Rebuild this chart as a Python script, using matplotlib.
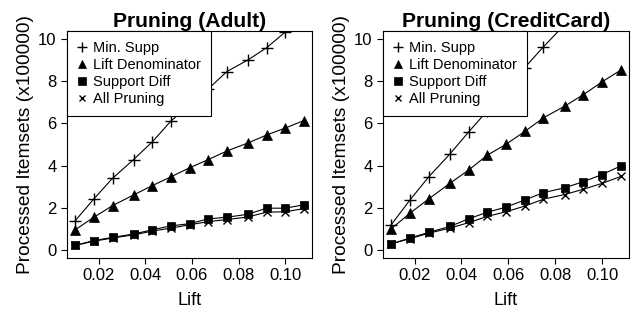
import matplotlib
matplotlib.use("Agg")
import matplotlib.pyplot as plt

plt.rcParams['font.family'] = ['Liberation Sans', 'DejaVu Sans']

lift = [0.010, 0.018, 0.026, 0.035, 0.043, 0.051, 0.059, 0.067, 0.075, 0.084, 0.092, 0.100, 0.108]

# Adult
adult_minsupp = [1.37, 2.41, 3.39, 4.28, 5.12, 6.11, 6.9, 7.64, 8.47, 9.02, 9.6, 10.35, 11.1]
adult_liftden = [0.94, 1.54, 2.09, 2.6, 3.04, 3.46, 3.89, 4.28, 4.69, 5.07, 5.45, 5.78, 6.14]
adult_suppdiff = [0.2, 0.43, 0.58, 0.74, 0.94, 1.13, 1.23, 1.46, 1.54, 1.68, 1.97, 1.97, 2.13]
adult_all = [0.2, 0.4, 0.55, 0.7, 0.88, 1.02, 1.18, 1.33, 1.43, 1.55, 1.78, 1.8, 1.95]

# CreditCard
cc_minsupp = [1.18, 2.36, 3.46, 4.54, 5.59, 6.6, 7.6, 8.66, 9.65, 10.7, 11.7, 12.7, 13.7]
cc_liftden = [0.99, 1.73, 2.41, 3.15, 3.78, 4.49, 5.01, 5.62, 6.27, 6.82, 7.37, 7.98, 8.54]
cc_suppdiff = [0.27, 0.55, 0.82, 1.1, 1.46, 1.78, 2.02, 2.36, 2.71, 2.94, 3.23, 3.57, 3.98]
cc_all = [0.27, 0.52, 0.78, 1.02, 1.28, 1.58, 1.8, 2.07, 2.4, 2.62, 2.87, 3.15, 3.48]

labels = ["Min. Supp", "Lift Denominator", "Support Diff", "All Pruning"]
markers = ["+", "^", "s", "x"]
msizes = [8, 7, 6, 5.5]

panels = [
    ("Pruning (Adult)", [adult_minsupp, adult_liftden, adult_suppdiff, adult_all], [67, 312]),
    ("Pruning (CreditCard)", [cc_minsupp, cc_liftden, cc_suppdiff, cc_all], [383, 629]),
]

W, H = 644, 310
fig = plt.figure(figsize=(W / 100, H / 100), dpi=100)

for title, series, (x0, x1) in panels:
    ax = fig.add_axes([x0 / W, 1 - 258 / H, (x1 - x0) / W, (258 - 31) / H])
    for ys, lab, m, ms in zip(series, labels, markers, msizes):
        ax.plot(lift, ys, color="black", lw=0.8, marker=m, markersize=ms,
                markeredgewidth=1.0 if m in "+x" else 0.5, label=lab)
    ax.set_xlim(0.0065, 0.1115)
    ax.set_ylim(-0.4, 10.4)
    ax.set_xticks([0.02, 0.04, 0.06, 0.08, 0.10])
    ax.set_xticklabels(["0.02", "0.04", "0.06", "0.08", "0.10"])
    ax.set_yticks([0, 2, 4, 6, 8, 10])
    ax.tick_params(labelsize=12, length=4, width=0.8)
    ax.set_title(title, fontsize=15.2, fontweight="bold", pad=3)
    ax.set_xlabel("Lift", fontsize=13, labelpad=6)
    ax.set_ylabel("Processed Itemsets (x100000)", fontsize=13.8, labelpad=3)
    leg = ax.legend(loc="upper left", fontsize=10.5, frameon=True, fancybox=False,
                    framealpha=1, borderaxespad=0, handlelength=0.6, handletextpad=0.5,
                    labelspacing=0.2, borderpad=0.7, markerscale=0.85)
    leg.get_frame().set_edgecolor("black")
    leg.get_frame().set_linewidth(0.8)
    leg.set_zorder(5)
    for h in leg.legend_handles:
        h.set_linestyle("None")

fig.savefig("out.png", dpi=100)
